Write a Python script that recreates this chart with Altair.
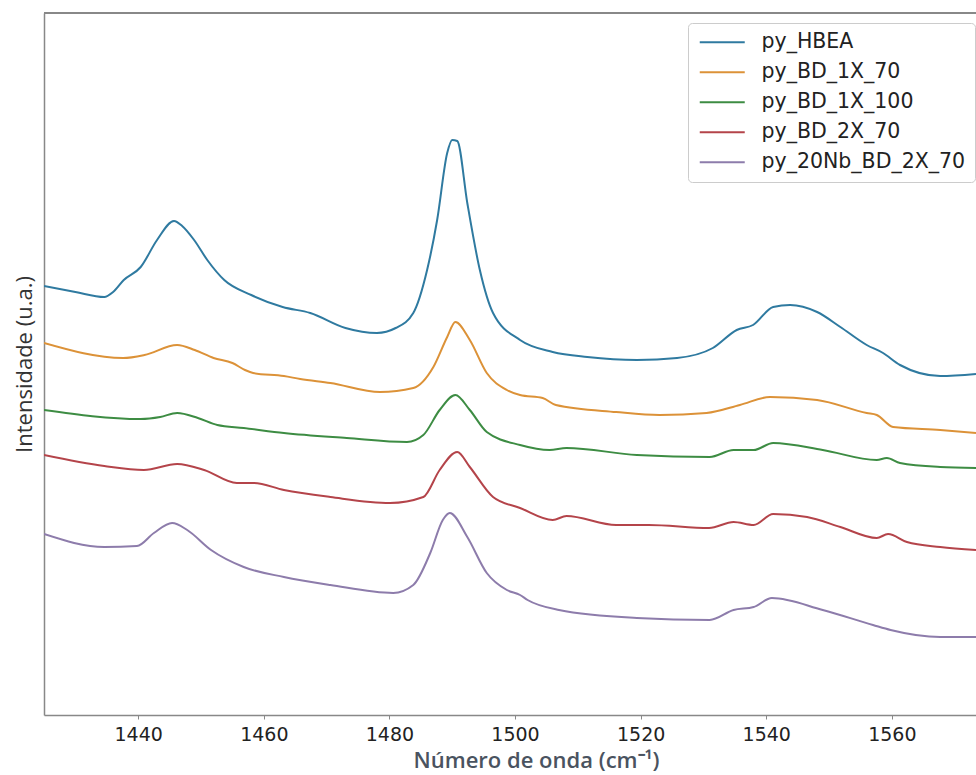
import altair as alt
import pandas as pd

series = ["py_HBEA", "py_BD_1X_70", "py_BD_1X_100", "py_BD_2X_70", "py_20Nb_BD_2X_70"]
colors = ["#2f7aa0", "#dc9238", "#3d8c43", "#b4444a", "#8d7cab"]

wn_hbea = [1425.0, 1430.0, 1434.6, 1436.0, 1437.7, 1440.4, 1443.0, 1445.7, 1447.0, 1448.9,
           1451.0, 1453.7, 1458.0, 1463.0, 1467.4, 1473.0, 1478.0, 1481.0, 1483.8, 1486.0,
           1487.6, 1489.2, 1490.0, 1490.8, 1492.4, 1494.4, 1496.5, 1500.8, 1506.0, 1511.5,
           1519.4, 1525.8, 1531.5, 1535.3, 1537.9, 1541.1, 1543.8, 1548.1, 1551.8, 1556.0,
           1558.6, 1561.3, 1567.7, 1573.4]
int_hbea = [4.29, 4.23, 4.18, 4.23, 4.35, 4.48, 4.75, 4.94, 4.89, 4.75,
            4.55, 4.35, 4.20, 4.08, 4.02, 3.87, 3.82, 3.87, 4.02, 4.45,
            4.95, 5.62, 5.75, 5.74, 5.12, 4.45, 4.02, 3.75, 3.63, 3.58,
            3.55, 3.57, 3.67, 3.85, 3.90, 4.08, 4.10, 4.03, 3.88, 3.70,
            3.62, 3.50, 3.39, 3.41]

wn_bd1x70 = [1425.0, 1437.6, 1441.0, 1446.2, 1449.0, 1452.0, 1455.0, 1457.0, 1458.3, 1463.2,
             1465.8, 1470.6, 1478.5, 1483.8, 1487.0, 1489.2, 1490.5, 1492.8, 1495.5, 1498.7,
             1500.8, 1504.4, 1506.5, 1516.1, 1523.0, 1530.5, 1535.8, 1540.6, 1548.1, 1556.0,
             1557.6, 1560.2, 1567.7, 1573.4]
int_bd1x70 = [3.72, 3.57, 3.60, 3.70, 3.65, 3.57, 3.52, 3.45, 3.42, 3.39,
              3.36, 3.32, 3.23, 3.27, 3.48, 3.78, 3.93, 3.75, 3.42, 3.25,
              3.20, 3.17, 3.10, 3.03, 3.00, 3.02, 3.10, 3.18, 3.15, 3.02,
              3.00, 2.88, 2.85, 2.82]

wn_bd1x100 = [1425.0, 1440.4, 1443.5, 1446.2, 1449.5, 1452.6, 1456.8, 1463.2, 1473.2, 1482.8,
              1485.4, 1488.0, 1490.5, 1492.8, 1495.5, 1500.8, 1505.5, 1508.2, 1519.4, 1531.0,
              1534.8, 1538.0, 1541.1, 1549.0, 1557.6, 1559.2, 1561.3, 1567.7, 1573.4]
int_bd1x100 = [3.05, 2.96, 2.98, 3.02, 2.97, 2.90, 2.87, 2.82, 2.77, 2.73,
               2.80, 3.05, 3.20, 3.05, 2.83, 2.70, 2.65, 2.67, 2.60, 2.58,
               2.65, 2.65, 2.72, 2.65, 2.55, 2.57, 2.52, 2.48, 2.47]

wn_bd2x70 = [1425.0, 1434.6, 1440.9, 1446.2, 1450.5, 1455.7, 1458.4, 1463.2, 1470.6, 1480.1,
             1485.4, 1488.0, 1490.8, 1492.8, 1496.5, 1500.8, 1506.0, 1508.2, 1516.1, 1521.3,
             1530.9, 1534.8, 1538.0, 1541.1, 1546.5, 1551.8, 1557.6, 1559.4, 1562.4, 1567.7,
             1573.4]
int_bd2x70 = [2.60, 2.49, 2.45, 2.51, 2.45, 2.32, 2.32, 2.25, 2.18, 2.12,
              2.18, 2.45, 2.63, 2.48, 2.18, 2.07, 1.95, 1.99, 1.90, 1.90,
              1.87, 1.93, 1.90, 2.01, 1.98, 1.88, 1.77, 1.81, 1.73, 1.68,
              1.65]

wn_nb = [1425.0, 1434.6, 1439.8, 1442.5, 1445.4, 1447.8, 1451.6, 1456.8, 1463.2, 1470.6,
         1480.6, 1483.8, 1486.5, 1488.5, 1489.6, 1492.4, 1495.5, 1498.7, 1500.8, 1502.0,
         1507.0, 1519.4, 1531.0, 1534.8, 1538.0, 1540.9, 1549.0, 1557.0, 1559.8, 1567.7,
         1573.4]
int_nb = [1.81, 1.68, 1.69, 1.82, 1.92, 1.85, 1.65, 1.48, 1.38, 1.30,
          1.22, 1.30, 1.62, 1.95, 2.02, 1.78, 1.42, 1.25, 1.20, 1.15,
          1.05, 0.97, 0.95, 1.05, 1.08, 1.17, 1.05, 0.90, 0.85, 0.78,
          0.78]

x_ticks = [1440, 1460, 1480, 1500, 1520, 1540, 1560]

frames = []
for name, wn, val in zip(series,
                         [wn_hbea, wn_bd1x70, wn_bd1x100, wn_bd2x70, wn_nb],
                         [int_hbea, int_bd1x70, int_bd1x100, int_bd2x70, int_nb]):
    frames.append(pd.DataFrame({"wn": wn, "intensity": val, "amostra": name}))
df = pd.concat(frames, ignore_index=True)

W, H = 932, 702

lines = alt.Chart(df).mark_line(strokeWidth=2, interpolate="monotone", clip=True).encode(
    x=alt.X("wn:Q",
            scale=alt.Scale(domain=[1425, 1573.4], nice=False, zero=False),
            axis=alt.Axis(values=x_ticks, format="d", grid=False,
                          title="Número de onda (cm⁻¹)",
                          titleFont="Open Sans", titleFontSize=22, titleFontWeight=600,
                          titleColor="#4a5360", titleX=492, titleY=52,
                          titleBaseline="alphabetic", titleAlign="center",
                          labelFont="DejaVu Sans", labelFontSize=19, labelColor="#222222",
                          labelPadding=6, tickSize=4, tickColor="#888888",
                          domainColor="#888888", domainWidth=1.5)),
    y=alt.Y("intensity:Q",
            scale=alt.Scale(domain=[0, 7.02], nice=False, zero=False),
            axis=alt.Axis(labels=False, ticks=False, grid=False,
                          title="Intensidade (u.a.)",
                          titleFont="Open Sans", titleFontSize=22, titleFontWeight="normal",
                          titleColor="#333333", titleX=-20, titleY=H / 2,
                          titleAngle=270, titleAlign="center", titleBaseline="middle",
                          domainColor="#888888", domainWidth=1.5)),
    color=alt.Color("amostra:N",
                    scale=alt.Scale(domain=series, range=colors),
                    sort=series,
                    legend=alt.Legend(title=None, orient="none", legendX=644, legendY=10,
                                      symbolType="M-1,0H5", symbolSize=225,
                                      symbolStrokeWidth=2, labelFont="DejaVu Sans",
                                      labelFontSize=20.5, labelColor="#222222",
                                      labelLimit=0, labelOffset=44, rowPadding=9,
                                      padding=9,
                                      strokeColor="#cccccc", fillColor="white",
                                      cornerRadius=4)),
)

top_border = alt.Chart(df).mark_rule(color="#888888", strokeWidth=1.5).encode(
    x=alt.value(0), x2=alt.value(W), y=alt.value(0)
)

chart = alt.layer(lines, top_border).properties(
    width=W, height=H,
    autosize=alt.AutoSizeParams(type="none"),
    padding={"left": 44, "top": 13, "right": 0, "bottom": 60},
    background="white",
).configure_view(stroke=None)

chart.save("out.html", embed_options={"renderer": "svg", "actions": False})
